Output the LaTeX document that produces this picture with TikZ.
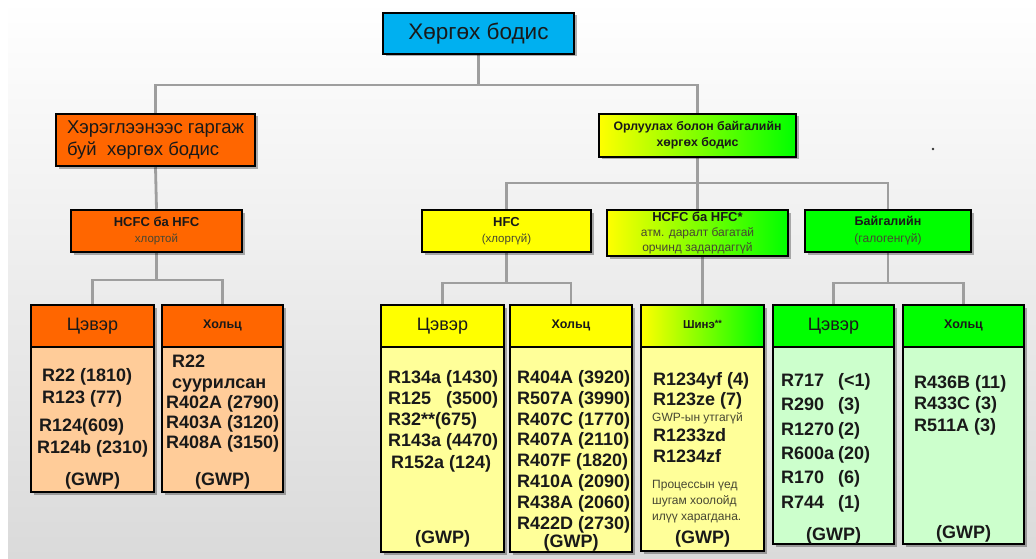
\documentclass[tikz,border=0pt]{standalone}
\usepackage{fontspec}
\setmainfont{Liberation Sans}
\usetikzlibrary{shadows}
\definecolor{cyanbox}{RGB}{0,176,240}
\definecolor{orangebox}{RGB}{255,102,0}
\definecolor{peach}{RGB}{255,204,153}
\definecolor{ylw}{RGB}{255,255,0}
\definecolor{lightylw}{RGB}{255,255,153}
\definecolor{grn}{RGB}{0,255,0}
\definecolor{lightgrn}{RGB}{204,255,204}
\definecolor{conn}{RGB}{158,158,158}
\definecolor{txt}{RGB}{25,25,25}
\definecolor{subtxt}{RGB}{70,70,50}
\definecolor{bgmid}{RGB}{242,242,242}
\definecolor{bgbot}{RGB}{218,218,218}
\pgfdeclarelayer{bg}
\pgfdeclarelayer{links}
\pgfsetlayers{bg,links,main}
\tikzset{
  box/.style={draw=black, line width=2.5pt, inner sep=0pt, align=center, text=txt,
    drop shadow={shadow xshift=2.5pt, shadow yshift=-2.5pt, fill=black, opacity=0.3}},
  grad/.style={box, left color=ylw, right color=grn},
  link/.style={draw=conn, line width=2.8pt},
  list/.style={anchor=north west, inner sep=0pt, align=left, text=txt,
    font=\bfseries\fontsize{18}{21}\selectfont},
  gwp/.style={inner sep=0pt, text=txt, font=\bfseries\fontsize{18}{21}\selectfont},
  small/.style={inner sep=0pt, align=left, text=subtxt, font=\fontsize{12}{16}\selectfont},
  pureh/.style={font=\fontsize{18}{20}\selectfont},
  mixh/.style={font=\bfseries\fontsize{12.5}{14}\selectfont},
  sub/.style={font=\bfseries\fontsize{13}{16}\selectfont}
}
\begin{document}
\begin{tikzpicture}[x=1pt,y=-1pt]
\useasboundingbox (0,0) rectangle (1036,559);
\begin{pgfonlayer}{bg}
\shade[top color=white, middle color=bgmid, bottom color=bgbot] (8,0) rectangle (1036,559);
\end{pgfonlayer}

% level 0
\node[box, fill=cyanbox, minimum width=191, minimum height=41,
  font=\fontsize{22.5}{26}\selectfont] (root) at (478.5,33.5) {Хөргөх бодис};

% level 1
\node[box, fill=orangebox, minimum width=199, minimum height=52, align=left,
  font=\fontsize{18.5}{22}\selectfont] (used) at (155.5,140) {Хэрэглээнээс гаргаж\\буй\ \ хөргөх бодис};
\node[grad, minimum width=197, minimum height=43,
  font=\bfseries\fontsize{12.3}{16}\selectfont] (alt) at (697.5,135.5) {Орлуулах болон байгалийн\\хөргөх бодис};

% level 2
\node[box, fill=orangebox, minimum width=171, minimum height=42, sub] (hcfcL) at (156.5,231)
  {HCFC ба HFC\\{\mdseries\fontsize{11.5}{14}\selectfont\color{subtxt}хлортой}};
\node[box, fill=ylw, minimum width=169, minimum height=42, sub] (hfc) at (506.5,231)
  {HFC\\{\mdseries\fontsize{11.5}{14}\selectfont\color{subtxt}(хлоргүй)}};
\node[grad, minimum width=181, minimum height=46, font=\bfseries\fontsize{13}{15}\selectfont] (hcfcS) at (697.5,233)
  {HCFC ба HFC*\\{\mdseries\fontsize{12}{14}\selectfont\color{subtxt}атм. даралт багатай}\\{\mdseries\fontsize{12}{14}\selectfont\color{subtxt}орчинд задардаггүй}};
\node[box, fill=grn, minimum width=166, minimum height=42, font=\bfseries\fontsize{12.5}{17}\selectfont] (nat) at (888,231)
  {Байгалийн\\{\mdseries\fontsize{12}{14}\selectfont\color{subtxt}(галогенгүй)}};

% level 3 - left
\node[box, fill=orangebox, minimum width=123, minimum height=42, pureh] (lpureH) at (92.5,326) {Цэвэр};
\node[box, fill=peach, minimum width=123, minimum height=145] (lpureB) at (92.5,419.5) {};
\node[box, fill=orangebox, minimum width=121, minimum height=42, mixh] (lmixH) at (222.5,326) {\raisebox{3pt}{Хольц}};
\node[box, fill=peach, minimum width=121, minimum height=145] (lmixB) at (222.5,419.5) {};
\node[list, font=\bfseries\fontsize{18}{22}\selectfont] (lpureL) at (37,368)
  {\hspace*{5pt}R22 (1810)\\\hspace*{5pt}R123 (77)\\[6pt]\hspace*{2pt}R124(609)\\R124b (2310)};
\node[list, font=\bfseries\fontsize{18}{20.3}\selectfont] (lmixL) at (166,355)
  {\hspace*{6pt}R22\\\hspace*{6pt}суурилсан\\R402A (2790)\\R403A (3120)\\R408A (3150)};
\node[gwp] (lpureG) at (92.5,481) {(GWP)};
\node[gwp] (lmixG) at (222.5,481) {(GWP)};

% level 3 - HFC
\node[box, fill=ylw, minimum width=123, minimum height=42, pureh] (hpureH) at (442.5,326) {Цэвэр};
\node[box, fill=lightylw, minimum width=123, minimum height=205] (hpureB) at (442.5,449.5) {};
\node[box, fill=ylw, minimum width=122, minimum height=42, mixh] (hmixH) at (571,326) {\raisebox{3pt}{Хольц}};
\node[box, fill=lightylw, minimum width=122, minimum height=205] (hmixB) at (571,449.5) {};
\node[list, font=\bfseries\fontsize{18}{21.2}\selectfont] (hpureL) at (388,370)
  {R134a (1430)\\\makebox[58pt][l]{R125}(3500)\\R32**(675)\\R143a (4470)\\\hspace*{3pt}R152a (124)};
\node[list, font=\bfseries\fontsize{18}{20.9}\selectfont] (hmixL) at (517,370)
  {R404A (3920)\\R507A (3990)\\R407C (1770)\\R407A (2110)\\R407F (1820)\\R410A (2090)\\R438A (2060)\\R422D (2730)};
\node[gwp] (hpureG) at (442.5,539) {(GWP)};
\node[gwp] (hmixG) at (571,543) {(GWP)};

% level 3 - new
\node[grad, minimum width=123, minimum height=42, font=\bfseries\fontsize{11.5}{13}\selectfont] (shineH) at (702.5,326)
  {\raisebox{3pt}{Шинэ{\fontsize{9}{9}\selectfont\raisebox{2pt}{**}}}};
\node[box, fill=lightylw, minimum width=123, minimum height=204] (shineB) at (702.5,449) {};
\node[list, font=\bfseries\fontsize{18}{20}\selectfont] (shineL1) at (653,372) {R1234yf (4)\\R123ze (7)};
\node[small, anchor=west] (shineS1) at (652,418) {GWP-ын утгагүй};
\node[list, font=\bfseries\fontsize{18}{21}\selectfont] (shineL2) at (653,428) {R1233zd\\R1234zf};
\node[small, anchor=north west] (shineS2) at (652,480) {Процессын үед\\шугам хоолойд\\илүү харагдана.};
\node[gwp] (shineG) at (702.5,539) {(GWP)};

% level 3 - natural
\node[box, fill=grn, minimum width=121, minimum height=42, pureh] (npureH) at (833.5,326) {Цэвэр};
\node[box, fill=lightgrn, minimum width=121, minimum height=197] (npureB) at (833.5,445.5) {};
\node[box, fill=grn, minimum width=121, minimum height=42, mixh] (nmixH) at (963.5,326) {\raisebox{3pt}{Хольц}};
\node[box, fill=lightgrn, minimum width=121, minimum height=197] (nmixB) at (963.5,445.5) {};
\node[list, font=\bfseries\fontsize{18}{24.4}\selectfont] (npureL) at (781,373)
  {\makebox[57pt][l]{R717}(<1)\\\makebox[57pt][l]{R290}(3)\\\makebox[57pt][l]{R1270}(2)\\\makebox[57pt][l]{R600a}(20)\\\makebox[57pt][l]{R170}(6)\\\makebox[57pt][l]{R744}(1)};
\node[list, font=\bfseries\fontsize{18}{21.5}\selectfont] (nmixL) at (914,375)
  {R436B (11)\\R433C (3)\\R511A (3)};
\node[gwp] (npureG) at (833.5,536) {(GWP)};
\node[gwp] (nmixG) at (963.5,534) {(GWP)};

% stray dot
\fill[black!80] (933,149) circle (1.3pt);

% connectors
\begin{pgfonlayer}{links}
\draw[link] (root.south) -- (root.south |- 0,85);
\draw[link] (used.north) |- (alt.north |- 0,85) -- (alt.north);
\draw[link] (used.south) -- (hcfcL.north);
\draw[link] (hcfcL.south) -- (hcfcL.south |- 0,280);
\draw[link] (lpureH.north) |- (lmixH.north |- 0,280) -- (lmixH.north);
\draw[link] (alt.south) -- (hcfcS.north);
\draw[link] (hfc.north) |- (nat.north |- 0,183) -- (nat.north);
\draw[link] (hfc.south) -- (hfc.south |- 0,283);
\draw[link] (hpureH.north) |- (hmixH.north |- 0,283) -- (hmixH.north);
\draw[link] (hcfcS.south -| shineH.north) -- (shineH.north);
\draw[link] (nat.south) -- (nat.south |- 0,283);
\draw[link] (npureH.north) |- (nmixH.north |- 0,283) -- (nmixH.north);
\end{pgfonlayer}
\end{tikzpicture}
\end{document}
